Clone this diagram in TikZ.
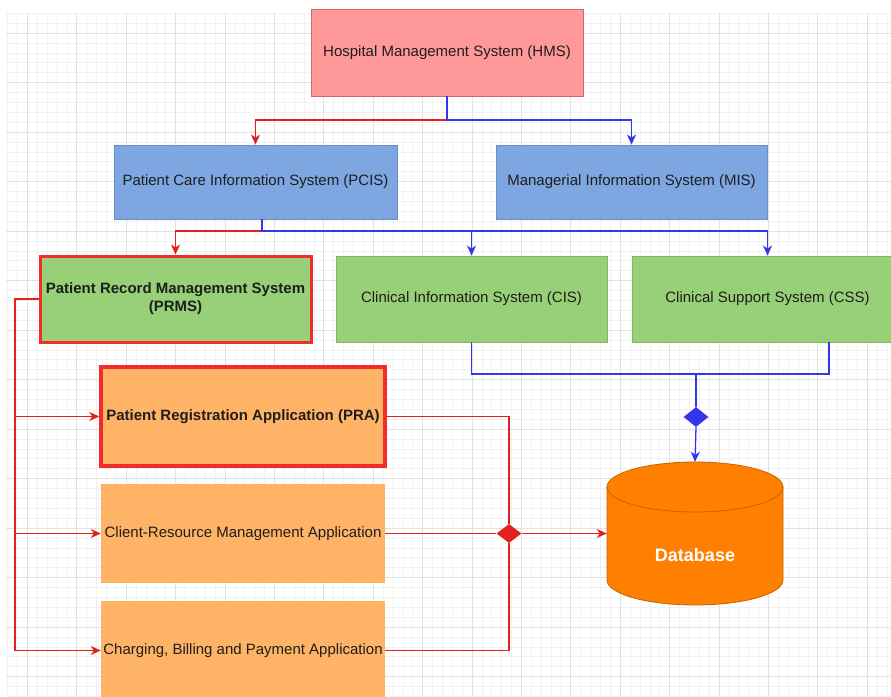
\documentclass[tikz,border=0pt]{standalone}
\usepackage{fontspec}
\setmainfont{Liberation Sans}
\usetikzlibrary{shapes.geometric,arrows.meta}
\definecolor{hmsfill}{HTML}{FF9999}
\definecolor{hmsdraw}{HTML}{D06A6A}
\definecolor{bluefill}{HTML}{7EA6E0}
\definecolor{bluedraw}{HTML}{6C8EBF}
\definecolor{greenfill}{HTML}{97D077}
\definecolor{greendraw}{HTML}{82B366}
\definecolor{orangefill}{HTML}{FFB366}
\definecolor{dbfill}{HTML}{FF8000}
\definecolor{dbdraw}{HTML}{C46200}
\definecolor{redln}{HTML}{E52020}
\definecolor{blueln}{HTML}{3535EE}
\definecolor{hilite}{HTML}{F22B2B}
\definecolor{minorg}{HTML}{F1F1F1}
\definecolor{majorg}{HTML}{E2E2E2}
\definecolor{txt}{HTML}{1E1E1E}
\begin{document}
\begin{tikzpicture}[x=1pt,y=-1pt,
  box/.style={rectangle, inner sep=2pt, align=center, text=txt,
    font=\fontsize{15}{18}\selectfont},
  hmsbox/.style={box, fill=hmsfill, draw=hmsdraw, line width=0.8pt},
  bluebox/.style={box, fill=bluefill, draw=bluedraw, line width=0.8pt},
  greenbox/.style={box, fill=greenfill, draw=greendraw, line width=0.8pt},
  appbox/.style={box, fill=orangefill},
  hot/.style={draw=hilite, line width=3pt, font=\fontsize{15}{18}\selectfont\bfseries},
  redline/.style={draw=redln, line width=1.3pt},
  blueline/.style={draw=blueln, line width=1.3pt},
  tip/.style={-{Stealth[length=10pt,width=9pt,inset=3pt]}},
  junction/.style={diamond, inner sep=0pt, draw=none},
  minorgrid/.style={draw=minorg, line width=0.6pt},
  majorgrid/.style={draw=majorg, line width=0.7pt}]
\clip (0,0) rectangle (891,696);
\fill[white] (0,0) rectangle (891,696);
% grid
\foreach \i in {0,...,89} { \draw[minorgrid] ({7.6+9.88*\i},13) -- ({7.6+9.88*\i},696); }
\foreach \i in {0,...,69} { \draw[minorgrid] (6,{13.2+9.9*\i}) -- (891,{13.2+9.9*\i}); }
\foreach \i in {0,...,17} { \draw[majorgrid] ({27.4+49.4*\i},13) -- ({27.4+49.4*\i},696); }
\foreach \i in {0,...,13} { \draw[majorgrid] (6,{33+49.5*\i}) -- (891,{33+49.5*\i}); }

% nodes
\node[hmsbox, minimum width=272pt, minimum height=87pt] (hms) at (447,52.5) {Hospital Management System (HMS)};
\node[bluebox, minimum width=283pt, minimum height=74pt] (pcis) at (255.5,182) {Patient Care Information System (PCIS)};
\node[bluebox, minimum width=271pt, minimum height=74pt] (mis) at (631.5,182) {Managerial Information System (MIS)};
\node[greenbox, hot, minimum width=271pt, minimum height=86pt] (prms) at (175.5,299) {Patient Record Management System\\(PRMS)};
\node[greenbox, minimum width=271pt, minimum height=86pt] (cis) at (471.5,299) {Clinical Information System (CIS)};
\node[greenbox, minimum width=271pt, minimum height=86pt] (css) at (767.5,299) {Clinical Support System (CSS)};
\node[appbox, hot, line width=3.5pt, minimum width=284pt, minimum height=99pt] (pra) at (243,416.5) {Patient Registration Application (PRA)};
\node[appbox, minimum width=284pt, minimum height=99pt] (crma) at (243,533.5) {Client-Resource Management Application};
\node[appbox, minimum width=284pt, minimum height=99pt] (cbpa) at (243,650.5) {Charging, Billing and Payment Application};
\node[rectangle, draw=none, inner sep=0pt, minimum width=176pt, minimum height=143pt] (db) at (695,533.5) {};
\node[junction, fill=blueln, minimum width=25pt, minimum height=20pt] (bd) at (696,417) {};
\node[junction, fill=redln, minimum width=25pt, minimum height=19pt] (rd) at (509,533.5) {};

% database cylinder
\begin{scope}[shift={(db.center)}, x=1pt, y=1pt]
  \filldraw[fill=dbfill, draw=dbdraw, line width=0.8pt]
    (-88,46.5) -- (-88,-46.5) arc[start angle=180, end angle=360, x radius=88, y radius=25]
    -- (88,46.5) arc[start angle=0, end angle=180, x radius=88, y radius=25] -- cycle;
  \draw[draw=dbdraw, line width=0.8pt] (-88,46.5) arc[start angle=180, end angle=360, x radius=88, y radius=25];
\end{scope}
\node[text=white, font=\fontsize{18}{21}\selectfont\bfseries] (dblabel) at (695,555) {Database};

% junction coordinates
\coordinate (j1) at (447,120);
\coordinate (j2) at (262,231);
\coordinate (j3) at (696,374);
\coordinate (bus) at (15,299);

% HMS connectors
\draw[redline, tip] (hms.south) -- (j1) -| (pcis.north);
\draw[blueline, tip] (hms.south) -- (j1) -| (mis.north);

% PCIS connectors
\draw[redline, tip] ([xshift=6.5pt]pcis.south) -- (j2) -| (prms.north);
\draw[blueline, tip] ([xshift=6.5pt]pcis.south) -- (j2) -| (cis.north);
\draw[blueline, tip] ([xshift=6.5pt]pcis.south) -- (j2) -| (css.north);

% CIS/CSS to database
\draw[blueline] (cis.south) |- (j3) -| ([xshift=61.5pt]css.south);
\draw[blueline] (j3) -- (bd.north);
\draw[blueline, tip] (bd.south) -- (db.north);

% PRMS to applications
\draw[redline, tip] (prms.west) -- (bus) |- (pra.west);
\draw[redline, tip] (prms.west) -- (bus) |- (crma.west);
\draw[redline, tip] (prms.west) -- (bus) |- (cbpa.west);

% applications to database
\draw[redline] (pra.east) -| (rd.north);
\draw[redline] (cbpa.east) -| (rd.south);
\draw[redline] (crma.east) -- (rd.west);
\draw[redline, tip] (rd.east) -- (db.west);
\end{tikzpicture}
\end{document}
